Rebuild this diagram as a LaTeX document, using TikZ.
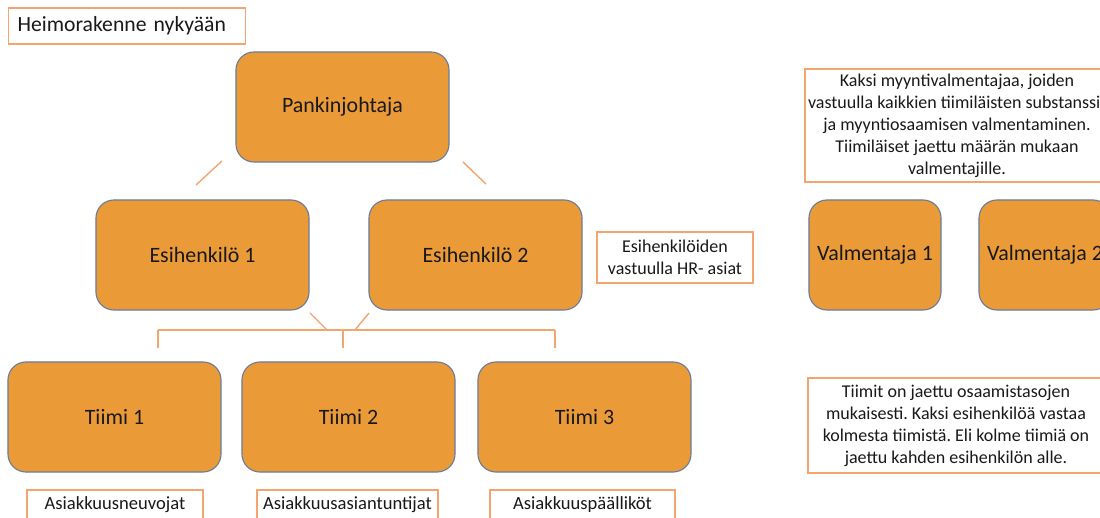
\documentclass[tikz,border=0pt]{standalone}
\usepackage{fontspec}
\setmainfont{Carlito}
\frenchspacing
\definecolor{boxfill}{RGB}{235,154,56}
\definecolor{boxline}{RGB}{105,125,155}
\definecolor{linkline}{RGB}{244,164,110}
\definecolor{inktext}{RGB}{25,25,25}
\begin{document}
\begin{tikzpicture}[x=0.025cm,y=-0.025cm,
    unit/.style={draw=boxline,line width=0.8pt,fill=boxfill,rounded corners=0.45cm,
      minimum width=5.325cm,minimum height=2.75cm,text=inktext,
      font=\fontsize{15.6}{18}\selectfont},
    coach/.style={unit,minimum width=3.3cm},
    notebox/.style={draw=linkline,line width=0.9pt,fill=white,text=inktext,align=center,
      font=\fontsize{12.8}{15.6}\selectfont},
    rolebox/.style={notebox,minimum height=0.75cm,font=\fontsize{13.2}{15.6}\selectfont},
    link/.style={draw=linkline,line width=1pt}]
  \useasboundingbox (0,0) rectangle (1100,518);

  \node (title) [notebox,anchor=west,align=left,text width=5.475cm,inner xsep=0.225cm,
    minimum height=0.9cm,font=\fontsize{15.4}{18}\selectfont] at (8,26) {Heimorakenne nykyään};

  \node (bank) [unit] at (342.5,107) {Pankinjohtaja};

  \node (boss_one) [unit] at (202.5,255) {Esihenkilö 1};
  \node (boss_two) [unit] at (475.5,255) {Esihenkilö 2};

  \node (team_one) [unit] at (114.5,417) {Tiimi 1};
  \node (team_two) [unit] at (348.5,417) {Tiimi 2};
  \node (team_three) [unit] at (584.5,417) {Tiimi 3};

  \node (coach_one) [coach] at (875,255) {Valmentaja 1};
  \node (coach_two) [coach] at (1045,255) {Valmentaja 2};

  \node (hr) [notebox,minimum width=3.9cm,minimum height=1.275cm] at (675,257.5)
    {Esihenkilöiden\\vastuulla HR- asiat};

  \node (coach_note) [notebox,minimum width=7.6cm,minimum height=2.825cm,
    label={[align=center,text=inktext,font=\fontsize{12.8}{15.6}\selectfont]center:
      Kaksi myyntivalmentajaa, joiden\\vastuulla kaikkien tiimiläisten substanssi-\\
      ja myyntiosaamisen valmentaminen.\\Tiimiläiset jaettu määrän mukaan\\valmentajille.}]
    at (957,125.5) {};

  \node (team_note) [notebox,minimum width=7.4cm,minimum height=2.375cm] at (956,425.5)
    {Tiimit on jaettu osaamistasojen\\mukaisesti. Kaksi esihenkilöä vastaa\\
     kolmesta tiimistä. Eli kolme tiimiä on\\jaettu kahden esihenkilön alle.};

  \node (role_one) [rolebox,minimum width=4.4cm] at (115,505) {Asiakkuusneuvojat};
  \node (role_two) [rolebox,minimum width=4.525cm] at (347.5,505) {Asiakkuusasiantuntijat};
  \node (role_three) [rolebox,minimum width=4.625cm] at (582.5,505) {Asiakkuuspäälliköt};

  % short links under the bank manager
  \coordinate (bank_l) at (222,161);
  \coordinate (boss_one_t) at (196,185);
  \coordinate (bank_r) at (463,162);
  \coordinate (boss_two_t) at (486,184);
  \draw[link] (bank_l) -- (boss_one_t);
  \draw[link] (bank_r) -- (boss_two_t);

  % bracket over the teams
  \coordinate (boss_one_b) at (310,313);
  \coordinate (boss_two_b) at (369,313);
  \coordinate (join_l) at (327,330);
  \coordinate (join_r) at (355,330);
  \coordinate (bar_l) at (158,330);
  \coordinate (bar_m) at (343,330);
  \coordinate (bar_r) at (555,330);
  \coordinate (tick_l) at (158,348);
  \coordinate (tick_m) at (343,348);
  \coordinate (tick_r) at (555,348);
  \draw[link] (boss_one_b) -- (join_l);
  \draw[link] (boss_two_b) -- (join_r);
  \draw[link] (bar_l) -- (bar_r);
  \draw[link] (bar_l) -- (tick_l);
  \draw[link] (bar_m) -- (tick_m);
  \draw[link] (bar_r) -- (tick_r);
\end{tikzpicture}
\end{document}
